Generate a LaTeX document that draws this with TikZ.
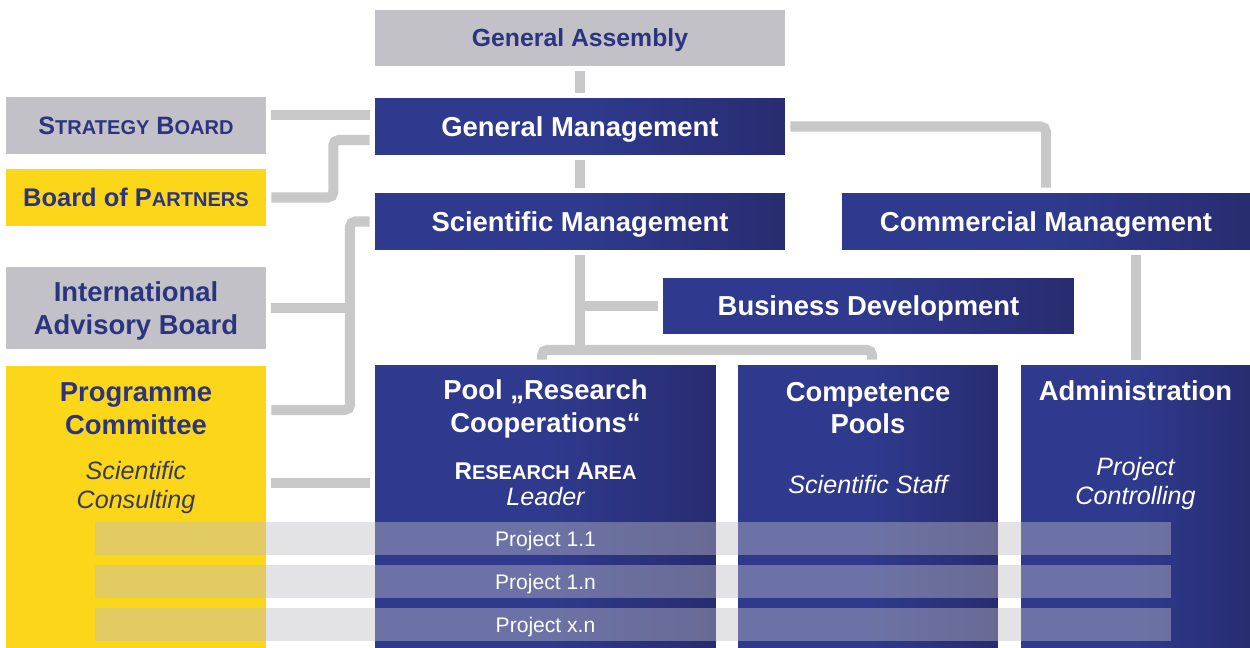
\documentclass[tikz,border=0pt]{standalone}
\usepackage{fontspec}
\setmainfont{Liberation Sans}
\usepackage{xcolor}
\usetikzlibrary{positioning}

\definecolor{pmblue}{RGB}{47,58,142}
\definecolor{pmdark}{RGB}{40,44,112}
\definecolor{pmgray}{RGB}{193,193,199}
\definecolor{pmyellow}{RGB}{252,214,24}
\definecolor{pmtext}{RGB}{44,52,128}
\definecolor{pmsub}{RGB}{58,58,90}
\definecolor{pmlink}{RGB}{200,200,200}
\definecolor{pmbar}{RGB}{190,190,196}

\newcommand{\scword}[1]{{\fontsize{11.4}{12}\selectfont #1}}

\tikzset{
  orgbox/.style={inner sep=0pt, text depth=0pt, align=center, font=\bfseries\fontsize{15.6}{18.8}\selectfont},
  bluebox/.style={orgbox, text=white, left color=pmblue, right color=pmdark, middle color=pmblue},
  graybox/.style={orgbox, fill=pmgray, text=pmtext},
  yellowbox/.style={orgbox, fill=pmyellow, text=pmtext},
  boxtitle/.style={inner sep=0pt, align=center, font=\bfseries\fontsize{15.6}{18.4}\selectfont},
  boxsub/.style={inner sep=0pt, align=center, font=\itshape\fontsize{14.3}{16.6}\selectfont},
  link/.style={draw=pmlink, line width=5.7pt, rounded corners=3pt, shorten <=0.1cm, shorten >=0.1cm},
  joint/.style={draw=pmlink, line width=5.7pt, shorten <=0.1cm},
  projbar/.style={fill=pmbar, fill opacity=0.43},
  projtext/.style={inner sep=0pt, text depth=0pt, text=white, font=\fontsize{12}{14}\selectfont}
}

\begin{document}
\begin{tikzpicture}[x=0.02cm,y=-0.02cm]
	\useasboundingbox (0,0) rectangle (1250,648);
	% management
	\node[graybox, font=\bfseries\fontsize{14.1}{17}\selectfont, minimum width=8.2cm, minimum height=1.12cm] (ga) at (580,38) {General Assembly};
	\node[bluebox, minimum width=8.2cm, minimum height=1.14cm] (gm) at (580,126.5) {General Management};
	\node[bluebox, minimum width=8.2cm, minimum height=1.14cm] (sm) at (580,221.5) {Scientific Management};
	\node[bluebox, minimum width=8.16cm, minimum height=1.14cm] (cm) at (1046,221.5) {Commercial Management};
	\node[bluebox, minimum width=8.22cm, minimum height=1.12cm] (bd) at (868.5,306) {Business Development};
	% boards
	\node[graybox, font=\bfseries\fontsize{14.3}{17}\selectfont, minimum width=5.2cm, minimum height=1.14cm] (sb) at (136,125.5) {S\scword{TRATEGY} B\scword{OARD}};
	\node[yellowbox, font=\bfseries\fontsize{14.5}{17}\selectfont, minimum width=5.2cm, minimum height=1.14cm] (bp) at (136,197.5) {Board of P\scword{ARTNERS}};
	\node[graybox, minimum width=5.2cm, minimum height=1.64cm] (iab) at (136,308) {International\\Advisory Board};
	\node[yellowbox, minimum width=5.2cm, minimum height=5.64cm] (pc) at (136,507) {};
	% pools
	\node[bluebox, minimum width=6.82cm, minimum height=5.66cm] (pool) at (545.5,506.5) {};
	\node[bluebox, minimum width=5.2cm, minimum height=5.66cm] (comp) at (868,506.5) {};
	\node[bluebox, minimum width=4.58cm, minimum height=5.66cm] (adm) at (1135.5,506.5) {};

	\node[boxtitle, text=pmtext, below=0.34cm of pc.north] (pctitle) {Programme\\Committee};
	\node[boxsub, text=pmsub, below=1.9cm of pc.north] (pcsub) {Scientific\\Consulting};
	\node[boxtitle, text=white, below=0.3cm of pool.north] (pooltitle) {Pool „Research\\Cooperations“};
	\node[inner sep=0pt, text depth=0pt, text=white, font=\bfseries\fontsize{13.8}{14}\selectfont, below=1.96cm of pool.north] (area) {R\scword{ESEARCH} A\scword{REA}};
	\node[boxsub, text=white, below=0.14cm of area] (leader) {Leader};
	\node[boxtitle, text=white, below=0.34cm of comp.north] (comptitle) {Competence\\Pools};
	\node[boxsub, text=white, below=2.2cm of comp.north] (compsub) {Scientific Staff};
	\node[boxtitle, text=white, below=0.32cm of adm.north] (admtitle) {Administration};
	\node[boxsub, text=white, below=1.84cm of adm.north] (admsub) {Project\\Controlling};

	% connectors
	\draw[link] (ga.south) -- (gm.north);
	\draw[link] (gm.south) -- (sm.north);
	\draw[link] (sb.east |- 0,115) -- (gm.west |- 0,115);
	\draw[link] (bp.east) -- ++(67,0) |- (gm.west |- 0,140);
	\draw[link] (sm.west) -| (350,410) -- (pc.east |- 0,410);
	\draw[joint] (iab.east) -- (350,308);
	\draw[link] (pc.east |- 0,483) -- (pool.west |- 0,483);
	\draw[link] (gm.east) -| (cm.north);
	\draw[link] (adm.north |- cm.south) -- (adm.north);
	\coordinate (hub) at (580,350);
	\draw[link] (sm.south) -- (hub);
	\draw[link] (sm.south |- bd.west) -- (bd.west);
	\draw[link] (pool.north -| 542,0) |- (hub) -| (comp.north -| 872,0);

	% projects
	\foreach \y/\name in {538.5/Project 1.1, 581.5/Project 1.n, 624.5/Project x.n} {
		\fill[projbar] (95,\y-16.5) rectangle (1171,\y+16.5);
		\node[projtext] at (pool.center |- 0,\y) {\name};
	}
\end{tikzpicture}
\end{document}
